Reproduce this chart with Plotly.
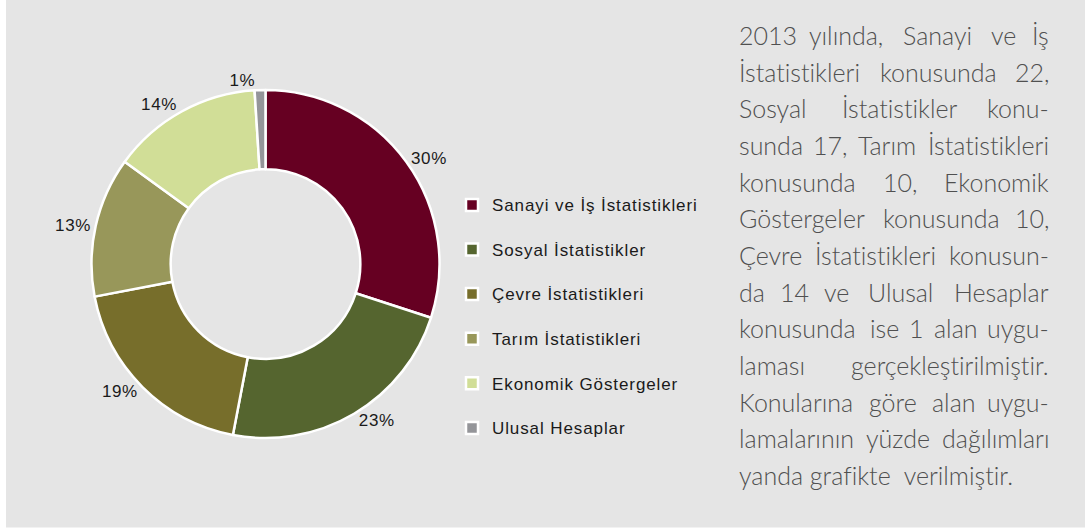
import plotly.graph_objects as go

# ---------------- data ----------------
categories = ["Sanayi ve İş İstatistikleri", "Sosyal İstatistikler", "Çevre İstatistikleri",
              "Tarım İstatistikleri", "Ekonomik Göstergeler", "Ulusal Hesaplar"]
shares = [30, 23, 19, 13, 14, 1]
colors = ["#660022", "#55652f", "#776e2b", "#98975a", "#d1de97", "#949599"]

paragraph_lines = [
    "2013 yılında, Sanayi ve İş",
    "İstatistikleri konusunda 22,",
    "Sosyal İstatistikler konu-",
    "sunda 17, Tarım İstatistikleri",
    "konusunda 10, Ekonomik",
    "Göstergeler konusunda 10,",
    "Çevre İstatistikleri konusun-",
    "da 14 ve Ulusal Hesaplar",
    "konusunda ise 1 alan uygu-",
    "laması gerçekleştirilmiştir.",
    "Konularına göre alan uygu-",
    "lamalarının yüzde dağılımları",
    "yanda grafikte\u00a0 verilmiştir.",
]

W, H = 1085, 529
BG = "#e5e5e5"

legend_labels = ["<span style='font-size:17px;letter-spacing:0.9px'>" + c + "</span><br>\u00a0"
                 for c in categories]

fig = go.Figure()
fig.add_trace(go.Pie(
    labels=legend_labels,
    values=shares,
    sort=False,
    direction="clockwise",
    rotation=0,
    hole=0.545,
    marker=dict(colors=colors, line=dict(color="white", width=2.5)),
    textposition="outside",
    texttemplate="<span style='letter-spacing:0.6px'>%{value}%</span>",
    textfont=dict(family="Liberation Sans, Arial, sans-serif", size=17, color="#1a1a1a"),
    domain=dict(x=[(265.5 - 174) / W, (265.5 + 174) / W],
                y=[(H - 264 - 174) / H, (H - 264 + 174) / H]),
    hoverinfo="skip",
))

# ------------- paragraph (justified, word placement) -------------
cw = {' ': 278, ',': 278, '.': 278, '-': 333,
      'a': 556, 'b': 556, 'c': 500, 'd': 556, 'e': 556, 'f': 278, 'g': 556, 'h': 556,
      'i': 222, 'ı': 222, 'k': 500, 'l': 222, 'm': 833, 'n': 556, 'o': 556, 'p': 556,
      'r': 333, 's': 500, 't': 278, 'u': 556, 'v': 500, 'y': 500, 'z': 500, 'ç': 500,
      'ğ': 556, 'ö': 556, 'ş': 500, 'ü': 556,
      'S': 667, 'İ': 278, 'E': 667, 'G': 778, 'Ç': 722, 'U': 722, 'H': 722, 'K': 667, 'T': 611}
FS = 25


def wpx(word):
    return sum(cw.get(ch, 556) for ch in word) * FS / 1000.0


def noliga(s):
    return "<span style='font-variant-ligatures:none'>" + s + "</span>"


L, R = 736.7, 1051.0
y0, dy = 35.0, 36.67
pfont = dict(family="Lato, Roboto, Liberation Sans, sans-serif", size=FS, color="#505050", weight=300)

for i, line in enumerate(paragraph_lines):
    yc = 1 - (y0 + i * dy) / H
    if i == len(paragraph_lines) - 1:
        fig.add_annotation(x=L / W, y=yc, xref="paper", yref="paper", text=noliga(line),
                           showarrow=False, xanchor="left", yanchor="middle", font=pfont)
        continue
    words = line.split(" ")
    widths = [wpx(w) for w in words]
    gap = (R - L - sum(widths)) / (len(words) - 1)
    pos = L
    for j, (w, ww) in enumerate(zip(words, widths)):
        if j == 0:
            x, anc = L, "left"
        elif j == len(words) - 1:
            x, anc = R, "right"
        else:
            x, anc = pos + ww / 2, "center"
        fig.add_annotation(x=x / W, y=yc, xref="paper", yref="paper", text=noliga(w),
                           showarrow=False, xanchor=anc, yanchor="middle", font=pfont)
        pos += ww + gap

# white strips framing the grey panel
fig.add_shape(type="rect", xref="paper", yref="paper", x0=0, x1=6 / W, y0=0, y1=1,
              fillcolor="white", line=dict(width=0), layer="below")
fig.add_shape(type="rect", xref="paper", yref="paper", x0=0, x1=1, y0=0, y1=1.5 / H,
              fillcolor="white", line=dict(width=0), layer="below")

fig.update_layout(
    width=W, height=H,
    margin=dict(l=0, r=0, t=0, b=0),
    paper_bgcolor=BG, plot_bgcolor=BG,
    showlegend=True,
    legend=dict(x=452 / W, y=1 - 188 / H, xanchor="left", yanchor="top",
                valign="top", bgcolor="rgba(0,0,0,0)",
                font=dict(family="Liberation Sans, Arial, sans-serif", size=16, color="#1a1a1a")),
)

fig.write_html("out.html", config={"displayModeBar": False},
               post_script="document.body.style.margin='0px';")
